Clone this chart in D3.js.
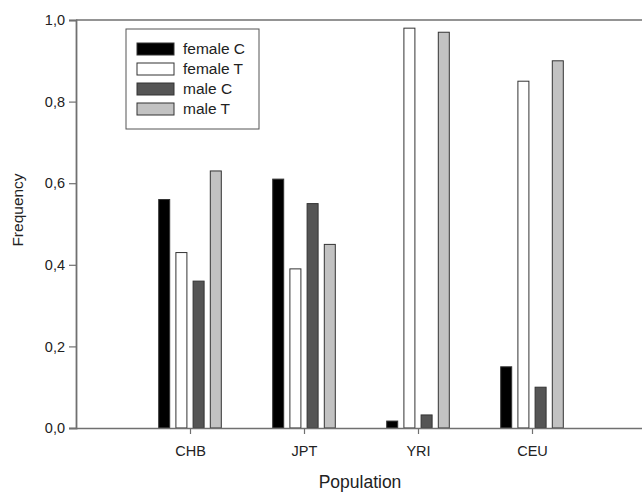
<!DOCTYPE html>
<html>
<head>
<meta charset="utf-8">
<script src="https://cdn.jsdelivr.net/npm/d3@7"></script>
<style>
  html, body { margin: 0; padding: 0; background: #fff; }
  svg { display: block; font-family: "Liberation Sans", Arial, sans-serif; }
</style>
</head>
<body>
<svg id="chart" width="642" height="493"></svg>
<script>
(function () {
  'use strict';

  var populations = ['CHB', 'JPT', 'YRI', 'CEU'];
  var seriesNames = ['female C', 'female T', 'male C', 'male T'];
  var femaleC = [0.56, 0.61, 0.017, 0.15];
  var femaleT = [0.43, 0.39, 0.98, 0.85];
  var maleC = [0.36, 0.55, 0.032, 0.10];
  var maleT = [0.63, 0.45, 0.97, 0.90];
  var yTicks = [0, 0.2, 0.4, 0.6, 0.8, 1.0];

  var series = [femaleC, femaleT, maleC, maleT];
  var fills = ['#000000', '#ffffff', '#555555', '#c2c2c2'];

  var svg = d3.select('#chart');
  var left = 76, right = 646, top = 20, bottom = 428;
  var axisColor = '#707070';
  var font = '"Liberation Sans", Arial, sans-serif';

  // categories sit at 1..4 on a 0..5 axis
  var x = d3.scaleLinear().domain([0, 5]).range([left, right]);
  var y = d3.scaleLinear().domain([0, 1]).range([bottom, top]);

  var barW = 11, step = 17.2;

  // frame top line
  svg.append('line')
    .attr('x1', left).attr('x2', right)
    .attr('y1', top).attr('y2', top)
    .attr('stroke', axisColor).attr('stroke-width', 1.5);

  // bars
  series.forEach(function (vals, si) {
    svg.append('g')
      .selectAll('rect')
      .data(vals)
      .enter()
      .append('rect')
      .attr('x', function (d, i) { return x(i + 1) + (si - 1.5) * step - barW / 2; })
      .attr('y', function (d) { return y(d); })
      .attr('width', barW)
      .attr('height', function (d) { return y(0) - y(d); })
      .attr('fill', fills[si])
      .attr('stroke', '#333')
      .attr('stroke-width', 1);
  });

  // y axis
  var yAxis = svg.append('g')
    .attr('transform', 'translate(' + left + ',0)')
    .call(d3.axisLeft(y).tickValues(yTicks).tickSize(7).tickPadding(4)
      .tickFormat(function (d) { return d3.format('.1f')(d).replace('.', ','); }));
  yAxis.select('.domain').attr('stroke', axisColor).attr('stroke-width', 1.8);
  yAxis.selectAll('.tick line').attr('stroke', axisColor).attr('stroke-width', 1.2);
  yAxis.selectAll('.tick text')
    .attr('font-size', 14.5).attr('fill', '#222')
    .attr('font-family', font);

  // x axis
  var xAxis = svg.append('g')
    .attr('transform', 'translate(0,' + bottom + ')')
    .call(d3.axisBottom(x).tickValues([1, 2, 3, 4]).tickSize(6).tickSizeOuter(0).tickPadding(12)
      .tickFormat(function (d) { return populations[d - 1]; }));
  xAxis.select('.domain').attr('stroke', axisColor).attr('stroke-width', 1.5);
  xAxis.selectAll('.tick line').attr('stroke', axisColor).attr('stroke-width', 1.2);
  xAxis.selectAll('.tick text')
    .attr('font-size', 14.5).attr('fill', '#222')
    .attr('font-family', font);

  // axis titles
  svg.append('text')
    .attr('transform', 'translate(23,210) rotate(-90)')
    .attr('text-anchor', 'middle')
    .attr('font-size', 15.5).attr('fill', '#222')
    .text('Frequency');

  svg.append('text')
    .attr('x', (left + right) / 2 - 1).attr('y', 488)
    .attr('text-anchor', 'middle')
    .attr('font-size', 17.5).attr('fill', '#222')
    .text('Population');

  // legend
  var legend = svg.append('g').attr('transform', 'translate(126,29)');
  legend.append('rect')
    .attr('width', 133).attr('height', 100)
    .attr('fill', '#fff').attr('stroke', '#555').attr('stroke-width', 1);

  var item = legend.selectAll('g.item')
    .data(seriesNames)
    .enter()
    .append('g')
    .attr('class', 'item')
    .attr('transform', function (d, i) { return 'translate(11,' + (14 + i * 20) + ')'; });

  item.append('rect')
    .attr('width', 37).attr('height', 12)
    .attr('fill', function (d, i) { return fills[i]; })
    .attr('stroke', '#333').attr('stroke-width', 1);

  item.append('text')
    .attr('x', 46).attr('y', 6)
    .attr('dy', '0.35em')
    .attr('font-size', 15.5).attr('fill', '#222')
    .text(function (d) { return d; });
})();
</script>
</body>
</html>
